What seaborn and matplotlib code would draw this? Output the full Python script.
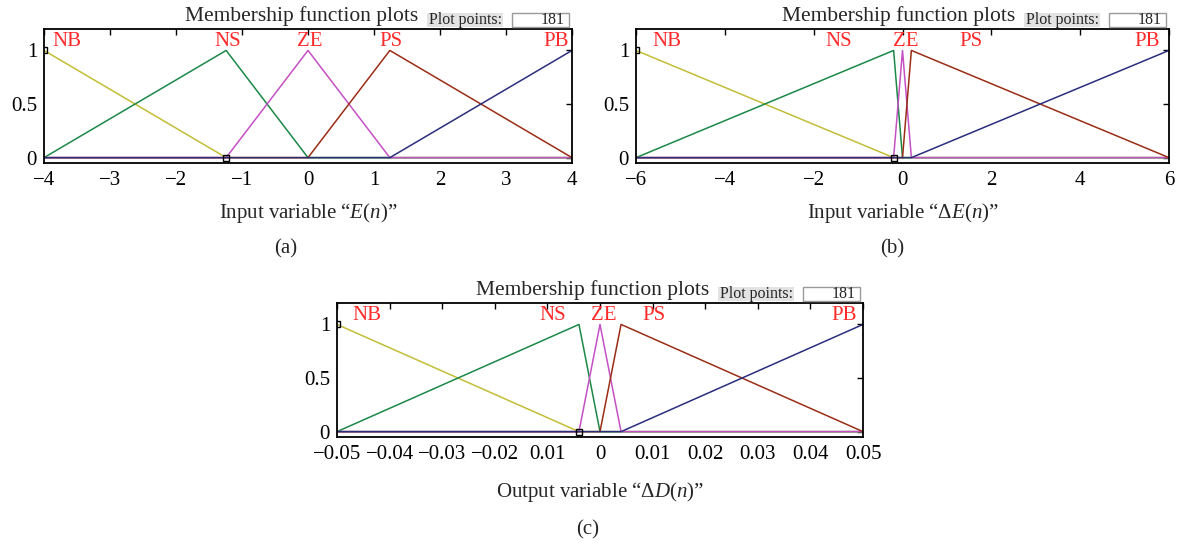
import numpy as np
import pandas as pd
import matplotlib
matplotlib.use("Agg")
import matplotlib.pyplot as plt
import seaborn as sns

# ---------------- data ----------------
mf_names = ["NB", "NS", "ZE", "PS", "PB"]

# (a) input variable E(n): vertices of each membership function (x, membership)
a_x = {"NB": [-4, -1.24, 4], "NS": [-4, -1.24, 0, 4], "ZE": [-4, -1.24, 0, 1.24, 4],
       "PS": [-4, 0, 1.24, 4], "PB": [-4, 1.24, 4]}
a_y = {"NB": [1, 0, 0], "NS": [0, 1, 0, 0], "ZE": [0, 0, 1, 0, 0],
       "PS": [0, 0, 1, 0], "PB": [0, 0, 1]}
a_ticks = [-4, -3, -2, -1, 0, 1, 2, 3, 4]
a_ticklabels = ["\u22124", "\u22123", "\u22122", "\u22121", "0", "1", "2", "3", "4"]
a_label_x = [-3.65, -1.21, 0.03, 1.25, 3.76]

# (b) input variable ΔE(n)
b_x = {"NB": [-6, -0.2, 6], "NS": [-6, -0.2, 0, 6], "ZE": [-6, -0.2, 0, 0.2, 6],
       "PS": [-6, 0, 0.2, 6], "PB": [-6, 0.2, 6]}
b_y = {"NB": [1, 0, 0], "NS": [0, 1, 0, 0], "ZE": [0, 0, 1, 0, 0],
       "PS": [0, 0, 1, 0], "PB": [0, 0, 1]}
b_ticks = [-6, -4, -2, 0, 2, 4, 6]
b_ticklabels = ["\u22126", "\u22124", "\u22122", "0", "2", "4", "6"]
b_label_x = [-5.30, -1.44, 0.07, 1.53, 5.50]

# (c) output variable ΔD(n)
c_x = {"NB": [-0.05, -0.004, 0.05], "NS": [-0.05, -0.004, 0, 0.05],
       "ZE": [-0.05, -0.004, 0, 0.004, 0.05], "PS": [-0.05, 0, 0.004, 0.05],
       "PB": [-0.05, 0.004, 0.05]}
c_y = {"NB": [1, 0, 0], "NS": [0, 1, 0, 0], "ZE": [0, 0, 1, 0, 0],
       "PS": [0, 0, 1, 0], "PB": [0, 0, 1]}
c_ticks = [-0.05, -0.04, -0.03, -0.02, -0.01, 0, 0.01, 0.02, 0.03, 0.04, 0.05]
c_ticklabels = ["\u22120.05", "\u22120.04", "\u22120.03", "\u22120.02", "0.01", "0",
                "0.01", "0.02", "0.03", "0.04", "0.05"]
c_label_x = [-0.0443, -0.0089, 0.0008, 0.0102, 0.0464]

y_ticks = [0, 0.5, 1]
y_ticklabels = ["0", "0.5", "1"]
plot_points = "181"

# ---------------- style ----------------
sns.set_style("white")
plt.rcParams["font.family"] = ["Liberation Serif", "DejaVu Serif"]
plt.rcParams["mathtext.fontset"] = "custom"
plt.rcParams["mathtext.rm"] = "Liberation Serif"
plt.rcParams["mathtext.it"] = "Liberation Serif:italic"

palette = {"NB": "#c4bd36", "NS": "#1c8848", "ZE": "#c450c4", "PS": "#9a2d16", "PB": "#2a2e7c"}
label_red = "#ff2b2b"

W, H = 1179, 544
fig = plt.figure(figsize=(W / 100, H / 100), dpi=100)


def fr(x0, y0, x1, y1):
    return [x0 / W, 1 - y1 / H, (x1 - x0) / W, (y1 - y0) / H]


def panel(box, xs, ys, ticks, ticklabels, label_x, xlabel, tag, tag_x, xl_off, tag_off):
    x0, y0, x1, y1 = box
    ax = fig.add_axes(fr(x0, y0, x1, y1))
    rows = []
    for n in mf_names:
        for i, (xv, yv) in enumerate(zip(xs[n], ys[n])):
            rows.append({"x": xv, "mu": yv, "mf": n, "order": i})
    df = pd.DataFrame(rows)
    sns.lineplot(data=df, x="x", y="mu", hue="mf", hue_order=mf_names, palette=palette,
                 units="mf", estimator=None, sort=False, lw=1.1, legend=False, ax=ax)
    # vertex handles of the selected function (NB)
    ax.plot(xs["NB"][:2], ys["NB"][:2], ls="none", marker="s", ms=3.8, mfc="none",
            mec="black", mew=1.0, zorder=5)
    lo, hi = ticks[0], ticks[-1]
    ax.set_xlim(lo, hi)
    ax.set_ylim(-0.05, 1.2)
    ax.set_xticks(ticks)
    ax.set_xticklabels(ticklabels)
    ax.set_yticks(y_ticks)
    ax.set_yticklabels(y_ticklabels)
    ax.tick_params(direction="in", length=4, width=1.0, top=True, right=True,
                   labelsize=15, colors="black", pad=6)
    ax.tick_params(axis="y", pad=5)
    for s in ax.spines.values():
        s.set_visible(True)
        s.set_color("black")
        s.set_linewidth(1.3)
    ax.set_xlabel("")
    ax.set_ylabel("")
    for n, lx in zip(mf_names, label_x):
        ax.text(lx, 1.085, n, color=label_red, fontsize=15, ha="center", va="center")
    # xlabel and tag
    fig.text((x0 + x1) / 2 / W, 1 - (y1 + xl_off) / H, xlabel, fontsize=15,
             ha="center", va="center")
    fig.text(tag_x / W, 1 - (y1 + tag_off) / H, tag, fontsize=15, ha="center", va="center")
    # title and "Plot points" box
    gx0, gx1 = x1 - 145, x1 - 69
    wx0, wx1 = x1 - 60, x1 - 3
    fig.text((gx0 - 9) / W, 1 - (y0 - 8) / H, "Membership function plots", fontsize=15.5,
             ha="right", va="baseline")
    fig.patches.append(plt.Rectangle((gx0 / W, 1 - (y0 - 2) / H), (gx1 - gx0) / W, 14 / H,
                                     transform=fig.transFigure, facecolor="#e3e3e3",
                                     edgecolor="none"))
    fig.text((gx0 + 2) / W, 1 - (y0 - 9) / H, "Plot points:", fontsize=11.5,
             ha="left", va="center")
    fig.patches.append(plt.Rectangle((wx0 / W, 1 - (y0 - 2) / H), (wx1 - wx0) / W, 14 / H,
                                     transform=fig.transFigure, facecolor="white",
                                     edgecolor="#9a9a9a", lw=1.0))
    fig.text((wx1 - 4) / W, 1 - (y0 - 9) / H, plot_points, fontsize=11.5,
             ha="right", va="center")
    return ax


panel((44, 29, 572, 163), a_x, a_y, a_ticks, a_ticklabels, a_label_x,
      "Input variable \u201c$E(n)$\u201d", "(a)", 286, 50, 86)
panel((636, 29, 1169, 163), b_x, b_y, b_ticks, b_ticklabels, b_label_x,
      "Input variable \u201c$\\Delta E(n)$\u201d", "(b)", 892, 50, 86)
panel((337, 303, 863, 437), c_x, c_y, c_ticks, c_ticklabels, c_label_x,
      "Output variable \u201c$\\Delta D(n)$\u201d", "(c)", 588, 55, 93)

fig.savefig("out.png", dpi=100)
